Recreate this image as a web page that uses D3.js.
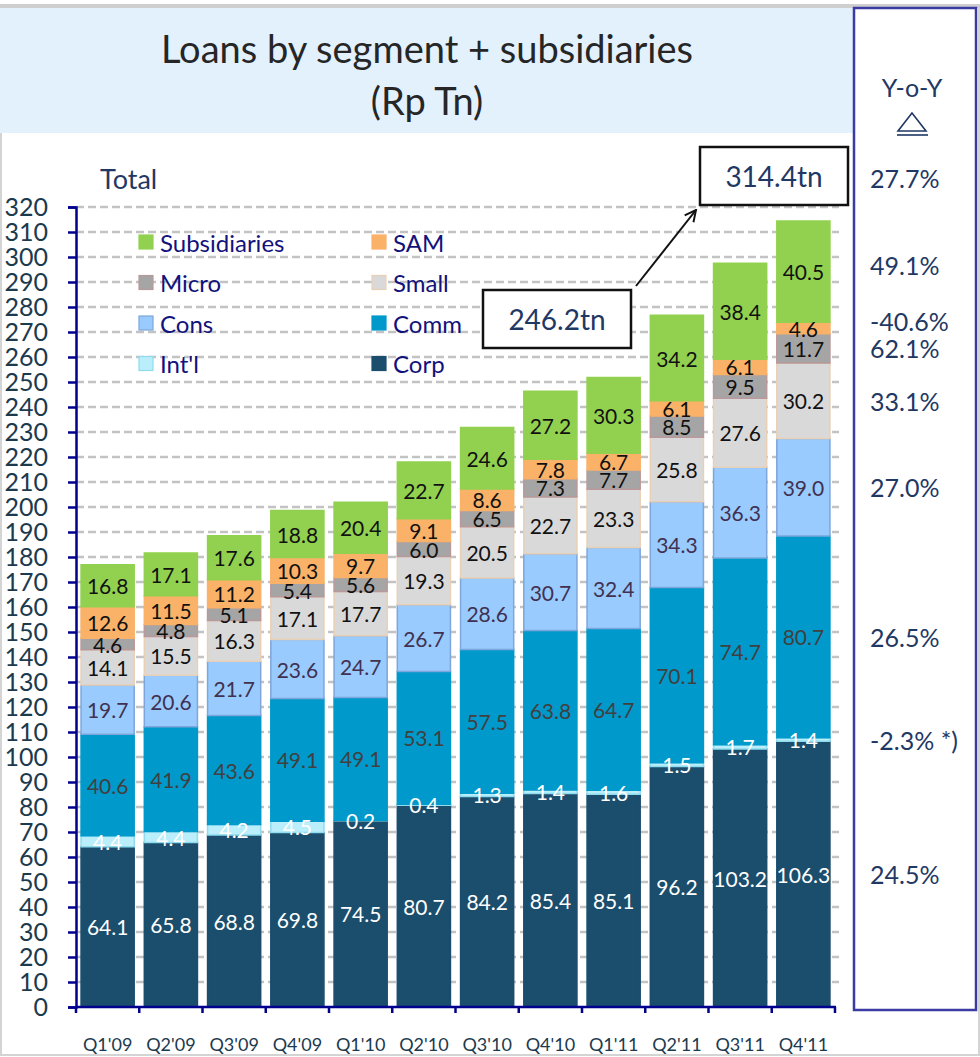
<!DOCTYPE html>
<html>
<head>
<meta charset="utf-8">
<script src="https://cdn.jsdelivr.net/npm/d3@7"></script>
<style>
  body { margin: 0; background: #fff; }
  text { font-family: Lato, "Open Sans", sans-serif; }
</style>
</head>
<body>
<div id="chart"></div>
<script>
// values
var quarters = ["Q1'09", "Q2'09", "Q3'09", "Q4'09", "Q1'10", "Q2'10", "Q3'10", "Q4'10", "Q1'11", "Q2'11", "Q3'11", "Q4'11"];
var corp  = [64.1, 65.8, 68.8, 69.8, 74.5, 80.7, 84.2, 85.4, 85.1, 96.2, 103.2, 106.3];
var intl  = [4.4, 4.4, 4.2, 4.5, 0.2, 0.4, 1.3, 1.4, 1.6, 1.5, 1.7, 1.4];
var comm  = [40.6, 41.9, 43.6, 49.1, 49.1, 53.1, 57.5, 63.8, 64.7, 70.1, 74.7, 80.7];
var cons  = [19.7, 20.6, 21.7, 23.6, 24.7, 26.7, 28.6, 30.7, 32.4, 34.3, 36.3, 39.0];
var small = [14.1, 15.5, 16.3, 17.1, 17.7, 19.3, 20.5, 22.7, 23.3, 25.8, 27.6, 30.2];
var micro = [4.6, 4.8, 5.1, 5.4, 5.6, 6.0, 6.5, 7.3, 7.7, 8.5, 9.5, 11.7];
var sam   = [12.6, 11.5, 11.2, 10.3, 9.7, 9.1, 8.6, 7.8, 6.7, 6.1, 6.1, 4.6];
var subs  = [16.8, 17.1, 17.6, 18.8, 20.4, 22.7, 24.6, 27.2, 30.3, 34.2, 38.4, 40.5];

var segments = ["Corp", "Int'l", "Comm", "Cons", "Small", "Micro", "SAM", "Subsidiaries"];
var segmentValues = [corp, intl, comm, cons, small, micro, sam, subs];

// y-o-y growth per segment (same order as segments) and for the total
var yoy = ["24.5%", "-2.3% *)", "26.5%", "27.0%", "33.1%", "62.1%", "-40.6%", "49.1%"];
var totalYoy = "27.7%";
var startLabel = "246.2tn";
var endLabel = "314.4tn";

var yTicks = d3.range(0, 321, 10);

var fills   = ["#1b4e6d", "#b9eefa", "#0099cb", "#99cbfe", "#d9d9d9", "#a5a5a5", "#fab168", "#92d14f"];
var borders = ["#1b4e6d", "#8fdcee", "#0099cb", "#7ea6da", "#e9d0b4", "#b9999b", "#fab168", "#92d14f"];
var labelColors = ["#ffffff", "#ffffff", "#404040", "#403152", "#111111", "#111111", "#111111", "#111111"];

var svgWidth = 980;
var svgHeight = 1057;

var svg = d3.select("#chart")
  .append("svg")
  .attr("width", svgWidth)
  .attr("height", svgHeight);

// frame and title panel
svg.append("rect").attr("x", 0).attr("y", 4).attr("width", 980).attr("height", 4).attr("fill", "#cfcfcf");
svg.append("rect").attr("x", 0).attr("y", 8).attr("width", 854).attr("height", 125).attr("fill", "#e3f1fd");
svg.append("line").attr("x1", 1).attr("x2", 1).attr("y1", 133).attr("y2", 1055)
  .attr("stroke", "#d4d4d4").attr("stroke-width", 2);
svg.append("line").attr("x1", 0).attr("x2", 980).attr("y1", 1055).attr("y2", 1055)
  .attr("stroke", "#d4d4d4").attr("stroke-width", 2);
svg.append("line").attr("x1", 979).attr("x2", 979).attr("y1", 8).attr("y2", 1055)
  .attr("stroke", "#d4d4d4").attr("stroke-width", 2);

svg.append("text")
  .attr("x", 427).attr("y", 48)
  .attr("text-anchor", "middle").attr("dominant-baseline", "central")
  .attr("font-size", 38).attr("fill", "#262626")
  .text("Loans by segment + subsidiaries");
svg.append("text")
  .attr("x", 427).attr("y", 100)
  .attr("text-anchor", "middle").attr("dominant-baseline", "central")
  .attr("font-size", 38).attr("fill", "#262626")
  .text("(Rp Tn)");

// scales
var x = d3.scaleBand()
  .domain(quarters)
  .range([76, 835])
  .paddingInner(0.16)
  .paddingOuter(0.08);

var y = d3.scaleLinear()
  .domain([0, 320])
  .range([1007, 207]);

var table = quarters.map(function(q, i) {
  var row = { quarter: q };
  segments.forEach(function(s, k) { row[s] = segmentValues[k][i]; });
  return row;
});

var series = d3.stack().keys(segments)(table);

// dashed gridlines
svg.append("g")
  .selectAll("line")
  .data(yTicks.slice(1))
  .enter()
  .append("line")
  .attr("x1", 76).attr("x2", 839)
  .attr("y1", d => y(d)).attr("y2", d => y(d))
  .attr("stroke", "#c3c3c3")
  .attr("stroke-width", 2.5)
  .attr("stroke-dasharray", "8,4");

// stacked bars
var layers = svg.append("g")
  .selectAll("g")
  .data(series)
  .enter()
  .append("g")
  .attr("fill", (d, i) => fills[i])
  .attr("stroke", (d, i) => borders[i]);

layers.selectAll("rect")
  .data(d => d)
  .enter()
  .append("rect")
  .attr("x", d => x(d.data.quarter))
  .attr("y", d => y(d[1]))
  .attr("width", x.bandwidth())
  .attr("height", d => y(d[0]) - y(d[1]))
  .attr("stroke-width", 1.5);

// segment value labels
series.forEach(function(layer, k) {
  svg.append("g")
    .selectAll("text")
    .data(layer)
    .enter()
    .append("text")
    .attr("x", d => x(d.data.quarter) + x.bandwidth() / 2)
    .attr("y", d => y((d[0] + d[1]) / 2))
    .attr("text-anchor", "middle")
    .attr("dominant-baseline", "central")
    .attr("font-size", 21)
    .attr("fill", labelColors[k])
    .text(d => d3.format(".1f")(d[1] - d[0]));
});

// y axis
var leftAxis = d3.axisLeft(y).tickValues(yTicks).tickSize(8).tickPadding(20).tickFormat(d3.format("d"));
var yAxis = svg.append("g")
  .attr("transform", "translate(76,0)")
  .call(leftAxis);
yAxis.select(".domain").attr("stroke", "#00008e").attr("stroke-width", 2.5);
yAxis.selectAll(".tick line").attr("stroke", "#00008e").attr("stroke-width", 2.5);
yAxis.selectAll(".tick text")
  .attr("font-size", 25)
  .attr("fill", "#1c3a4e")
  .attr("font-family", "Lato, sans-serif");

// x axis: ticks sit on the band boundaries
var xAxisLine = svg.append("g");
xAxisLine.append("line")
  .attr("x1", 76).attr("x2", 836)
  .attr("y1", 1007).attr("y2", 1007)
  .attr("stroke", "#00008e").attr("stroke-width", 2.5);
xAxisLine.selectAll(".bound")
  .data(d3.range(quarters.length + 1))
  .enter()
  .append("line")
  .attr("x1", i => 76 + i * x.step()).attr("x2", i => 76 + i * x.step())
  .attr("y1", 1007).attr("y2", 1013)
  .attr("stroke", "#00008e").attr("stroke-width", 2.5);
xAxisLine.selectAll("text")
  .data(quarters)
  .enter()
  .append("text")
  .attr("x", d => x(d) + x.bandwidth() / 2)
  .attr("y", 1044)
  .attr("text-anchor", "middle")
  .attr("dominant-baseline", "central")
  .attr("font-size", 18)
  .attr("fill", "#1c3a4e")
  .text(d => d);

// legend, two columns
var legendRows = [["Subsidiaries", "SAM"], ["Micro", "Small"], ["Cons", "Comm"], ["Int'l", "Corp"]];
var legend = svg.append("g");
legendRows.forEach(function(pair, r) {
  pair.forEach(function(name, c) {
    var k = segments.indexOf(name);
    var lx = 139 + c * 233;
    var ly = 242 + r * 40.5;
    legend.append("rect")
      .attr("x", lx).attr("y", ly - 7)
      .attr("width", 14).attr("height", 14)
      .attr("fill", fills[k])
      .attr("stroke", borders[k])
      .attr("stroke-width", 1.2);
    legend.append("text")
      .attr("x", lx + 21).attr("y", ly)
      .attr("dominant-baseline", "central")
      .attr("font-size", 24)
      .attr("fill", "#12127c")
      .text(name);
  });
});

// "Total" and growth boxes
svg.append("text")
  .attr("x", 100).attr("y", 178)
  .attr("dominant-baseline", "central")
  .attr("font-size", 27).attr("fill", "#1f3864")
  .text("Total");

function labelBox(cx, cy, txt) {
  svg.append("rect")
    .attr("x", cx - 74).attr("y", cy - 29)
    .attr("width", 148).attr("height", 58)
    .attr("fill", "#fff").attr("stroke", "#111").attr("stroke-width", 2.5);
  svg.append("text")
    .attr("x", cx).attr("y", cy)
    .attr("text-anchor", "middle").attr("dominant-baseline", "central")
    .attr("font-size", 28).attr("fill", "#1f3864")
    .text(txt);
}
labelBox(557, 319, startLabel);
labelBox(774, 176, endLabel);

svg.append("defs").append("marker")
  .attr("id", "arrow")
  .attr("viewBox", "0 0 10 10")
  .attr("refX", 9).attr("refY", 5)
  .attr("markerWidth", 7).attr("markerHeight", 7)
  .attr("orient", "auto")
  .append("path")
  .attr("d", "M1,1 L9,5 L1,9")
  .attr("fill", "none").attr("stroke", "#111").attr("stroke-width", 1.4);

svg.append("line")
  .attr("x1", 636).attr("y1", 286)
  .attr("x2", 696).attr("y2", 210)
  .attr("stroke", "#111").attr("stroke-width", 2)
  .attr("marker-end", "url(#arrow)");

// right hand y-o-y panel
svg.append("rect")
  .attr("x", 854).attr("y", 8)
  .attr("width", 122).attr("height", 1002)
  .attr("fill", "none").attr("stroke", "#3b3ba3").attr("stroke-width", 2.5);

svg.append("text")
  .attr("x", 912).attr("y", 87)
  .attr("text-anchor", "middle").attr("dominant-baseline", "central")
  .attr("font-size", 25).attr("fill", "#1f3864")
  .text("Y-o-Y");
svg.append("path")
  .attr("d", "M912,113 L898,131 L926,131 Z")
  .attr("fill", "none").attr("stroke", "#1f3864").attr("stroke-width", 1.6);
svg.append("line").attr("x1", 897).attr("x2", 928).attr("y1", 135).attr("y2", 135)
  .attr("stroke", "#1f3864").attr("stroke-width", 1.6);

svg.append("text")
  .attr("x", 870).attr("y", 178)
  .attr("dominant-baseline", "central")
  .attr("font-size", 25).attr("fill", "#1f3864")
  .text(totalYoy);

// one growth figure next to the middle of each Q4'11 segment
var last = quarters.length - 1;
var nudge = { "Subsidiaries": -7, "SAM": -7 };
svg.append("g")
  .selectAll("text")
  .data(series)
  .enter()
  .append("text")
  .attr("x", 870)
  .attr("y", (d, k) => y((d[last][0] + d[last][1]) / 2) + (nudge[segments[k]] || 0))
  .attr("dominant-baseline", "central")
  .attr("font-size", 25)
  .attr("fill", "#1f3864")
  .text((d, k) => yoy[k]);
</script>
</body>
</html>
